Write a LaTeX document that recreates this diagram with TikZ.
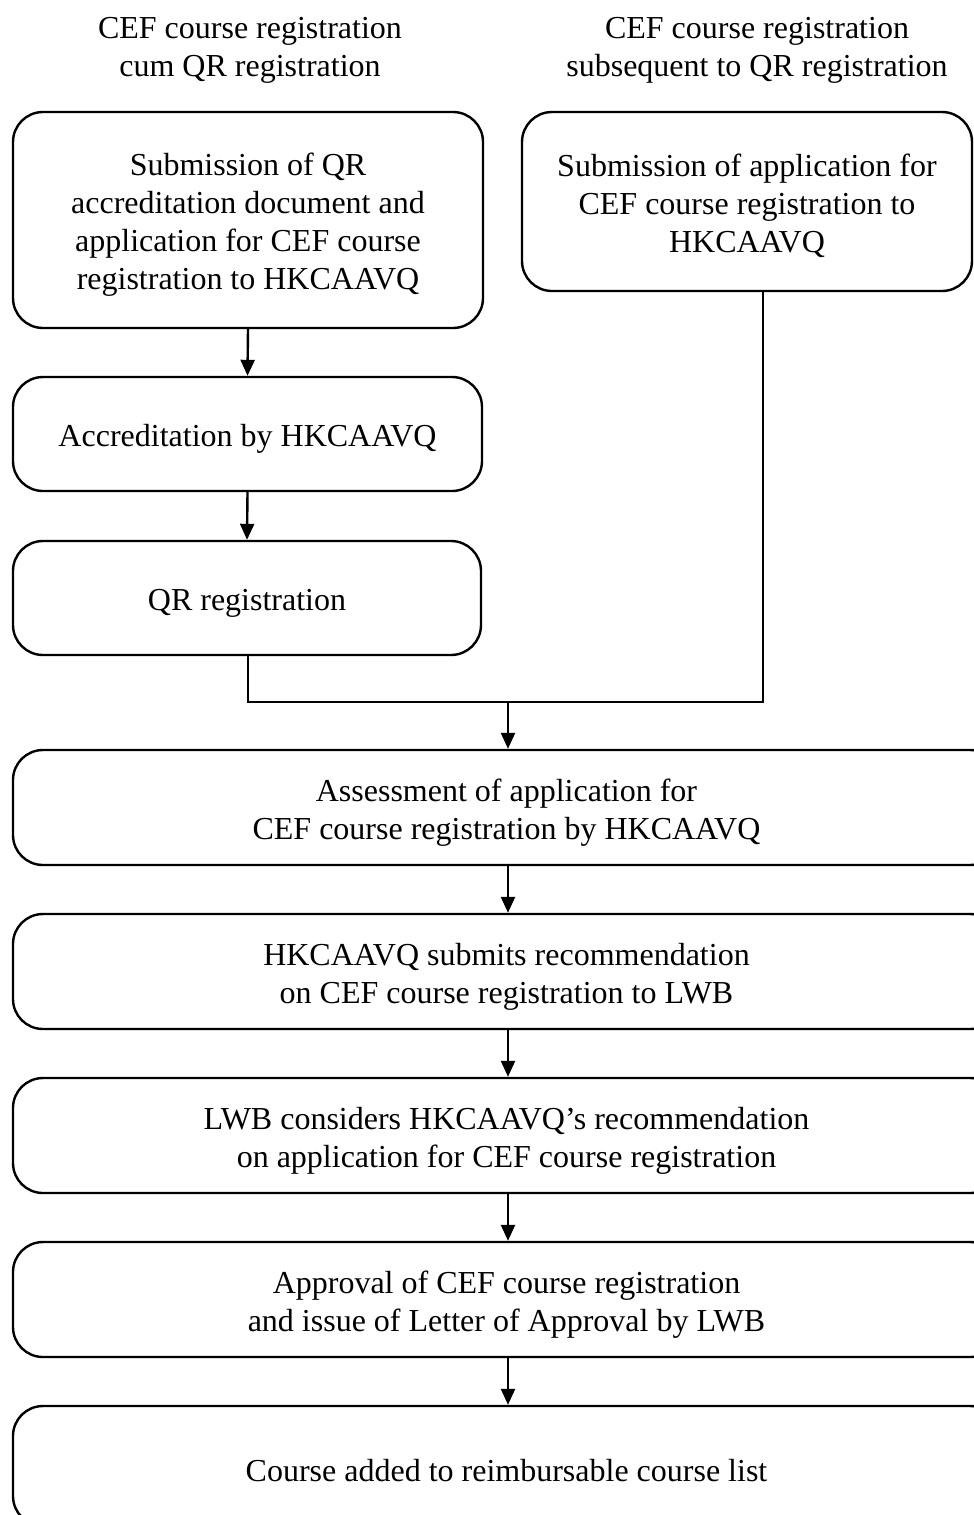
\documentclass[tikz,border=0pt]{standalone}
\usepackage{fontspec}
\setmainfont{Liberation Serif}
\usetikzlibrary{arrows.meta}
\newcommand{\tstrut}{\rule{0pt}{32pt}}
\begin{document}
\begin{tikzpicture}[x=1pt,y=-1pt,
  box/.style={draw=black,line width=2.4pt,rounded corners=30pt,align=center,inner sep=0pt,
    font=\fontsize{32}{38}\selectfont},
  ttl/.style={align=center,inner sep=0pt,font=\fontsize{32}{38}\selectfont},
  arr/.style={line width=2.4pt,-{Triangle[width=14pt,length=16pt]}},
  link/.style={line width=1.6pt}]
\useasboundingbox (0,0) rectangle (974,1515);
\node[ttl] (t1) at (250,45) {\tstrut CEF course registration\\cum QR registration};
\node[ttl] (t2) at (757,45) {\tstrut CEF course registration\\subsequent to QR registration};
\node[box,minimum width=470pt,minimum height=216pt] (b1) at (248,220)
  {\tstrut Submission of QR\\accreditation document and\\application for CEF course\\registration to HKCAAVQ};
\node[box,minimum width=450pt,minimum height=179pt] (b2) at (747,201.5)
  {\tstrut Submission of application for\\CEF course registration to\\HKCAAVQ};
\node[box,minimum width=469pt,minimum height=114pt] (b3) at (247.5,434) {\tstrut Accreditation by HKCAAVQ};
\node[box,minimum width=468pt,minimum height=114pt] (b4) at (247,598) {\tstrut QR registration};
\node[box,minimum width=987pt,minimum height=115pt] (b5) at (506.5,807.5)
  {\tstrut Assessment of application for\\CEF course registration by HKCAAVQ};
\node[box,minimum width=987pt,minimum height=115pt] (b6) at (506.5,971.5)
  {\tstrut HKCAAVQ submits recommendation\\on CEF course registration to LWB};
\node[box,minimum width=987pt,minimum height=115pt] (b7) at (506.5,1135.5)
  {\tstrut LWB considers HKCAAVQ’s recommendation\\on application for CEF course registration};
\node[box,minimum width=987pt,minimum height=115pt] (b8) at (506.5,1299.5)
  {\tstrut Approval of CEF course registration\\and issue of Letter of Approval by LWB};
\node[box,minimum width=987pt,minimum height=120pt] (b9) at (506.5,1466)
  {\tstrut Course added to reimbursable course list};
\coordinate (jl) at (248,702);
\coordinate (j) at (508,702);
\coordinate (jr) at (763,702);
\draw[arr] (b1.south) -- (b3.north);
\draw[arr] (b3.south) -- (b4.north);
\draw[link] (b4.south -| jl) -- (jl) -- (jr) -- (jr |- b2.south);
\draw[arr] (j) -- (j |- b5.north);
\draw[arr] (b5.south -| j) -- (j |- b6.north);
\draw[arr] (b6.south -| j) -- (j |- b7.north);
\draw[arr] (b7.south -| j) -- (j |- b8.north);
\draw[arr] (b8.south -| j) -- (j |- b9.north);
\end{tikzpicture}
\end{document}
